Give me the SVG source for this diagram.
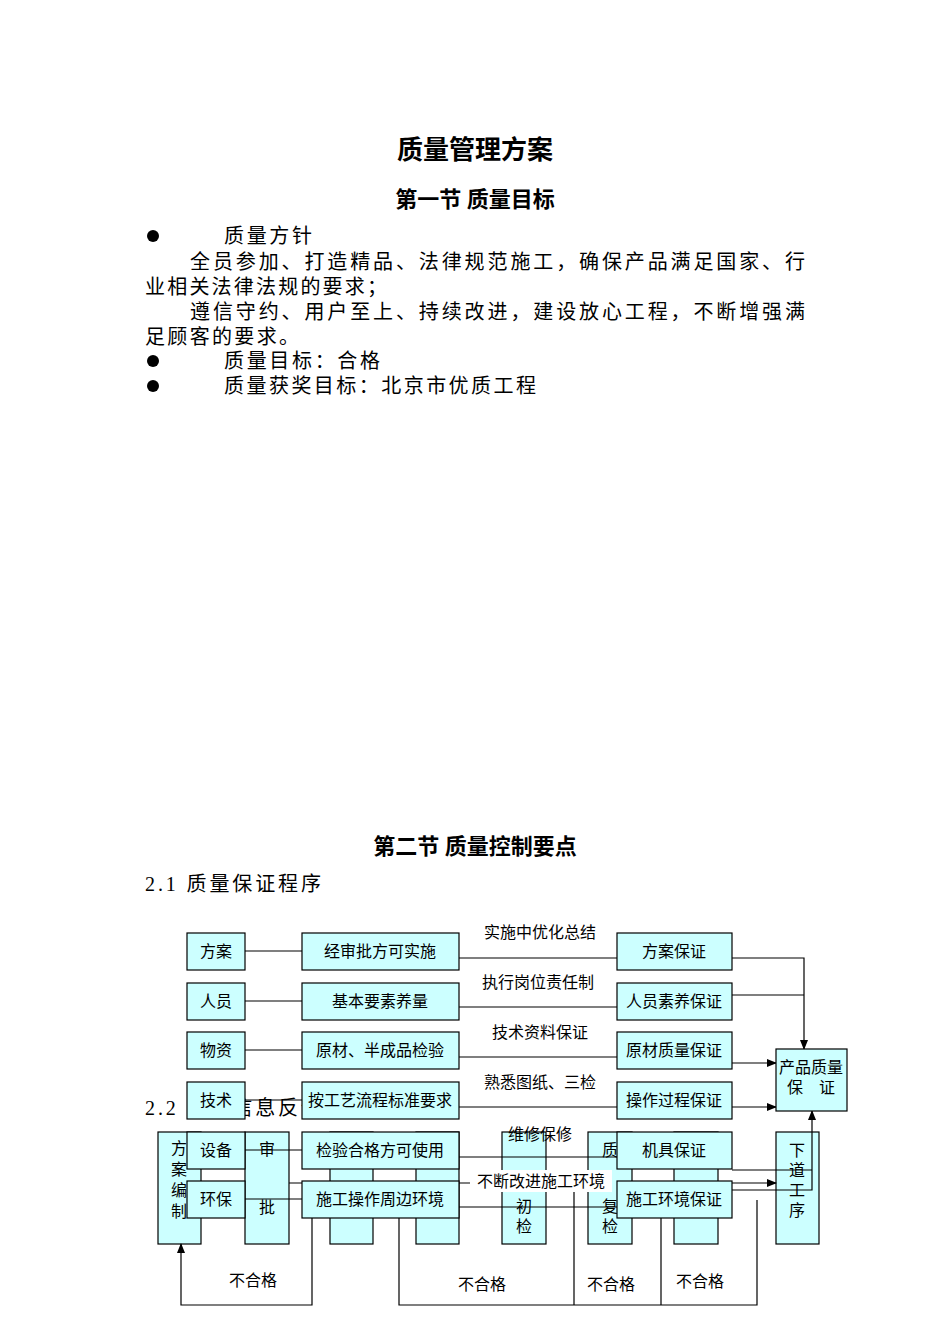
<svg xmlns="http://www.w3.org/2000/svg" width="950" height="1344" viewBox="0 0 950 1344">
<defs>
<style>
text{font-family:"Liberation Serif","Noto Sans CJK SC",serif;fill:#000}
.b{fill:#ccffff;stroke:#000;stroke-width:1.2}
.l{stroke:#000;stroke-width:1.2;fill:none}
.t{font-size:16px;text-anchor:middle}
.p{font-size:20px}
</style>
<marker id="a" markerWidth="10" markerHeight="8" refX="9" refY="4" orient="auto" markerUnits="userSpaceOnUse"><path d="M0,0L10,4L0,8z"/></marker>
</defs>
<rect width="950" height="1344" fill="#fff"/>
<text x="475" y="159" font-size="26" font-weight="bold" text-anchor="middle">质量管理方案</text>
<text x="475" y="207" font-size="22" font-weight="bold" text-anchor="middle">第一节 质量目标</text>
<g id="body">
<circle cx="153" cy="236" r="6"/><text x="224" y="243" class="p" textLength="88">质量方针</text>
<text x="190" y="269" class="p" textLength="615">全员参加、打造精品、法律规范施工，确保产品满足国家、行</text>
<text x="145" y="294" class="p" textLength="242">业相关法律法规的要求；</text>
<text x="190" y="319" class="p" textLength="615">遵信守约、用户至上、持续改进，建设放心工程，不断增强满</text>
<text x="145" y="344" class="p" textLength="154">足顾客的要求。</text>
<circle cx="153" cy="361" r="6"/><text x="224" y="368" class="p" textLength="156">质量目标：合格</text>
<circle cx="153" cy="386" r="6"/><text x="224" y="393" class="p" textLength="312">质量获奖目标：北京市优质工程</text>
</g>
<text x="475" y="854" font-size="22" font-weight="bold" text-anchor="middle">第二节 质量控制要点</text>
<text x="145" y="891" class="p" textLength="176">2.1 质量保证程序</text>
<text x="145" y="1115" class="p" textLength="176">2.2 质量信息反馈</text>
<g id="feedback">
<g id="fb1"><rect class="b" x="158" y="1132" width="43" height="112"/><text class="t" x="179" y="1154">方</text><text class="t" x="179" y="1175">案</text><text class="t" x="179" y="1196">编</text><text class="t" x="179" y="1217">制</text></g>
<g id="fb2"><rect class="b" x="245" y="1132" width="44" height="112"/><text class="t" x="267" y="1155">审</text><text class="t" x="267" y="1213">批</text></g>
<g id="fb3"><rect class="b" x="330" y="1132" width="43" height="112"/></g>
<g id="fb4"><rect class="b" x="416" y="1132" width="43" height="112"/></g>
<g id="fb5"><rect class="b" x="502" y="1132" width="44" height="112"/><text class="t" x="524" y="1212">初</text><text class="t" x="524" y="1232">检</text></g>
<g id="fb6"><rect class="b" x="588" y="1132" width="44" height="112"/><text class="t" x="610" y="1156">质</text><text class="t" x="610" y="1212">复</text><text class="t" x="610" y="1232">检</text></g>
<g id="fb7"><rect class="b" x="674" y="1132" width="44" height="112"/></g>
<g id="fb8"><rect class="b" x="776" y="1132" width="43" height="112"/><text class="t" x="797" y="1156">下</text><text class="t" x="797" y="1176">道</text><text class="t" x="797" y="1196">工</text><text class="t" x="797" y="1216">序</text></g>
</g>
<g id="fbconn">
<path class="l" d="M201,1183H245M289,1183H330M373,1183H416M459,1183H502M546,1183H588M632,1183H674M718,1183H776" marker-end="url(#a)"/>
<path class="l" d="M312,1218V1305H181V1244" marker-end="url(#a)"/>
<path class="l" d="M399,1218V1305H757V1200M574,1190V1305M661,1218V1305"/>
<rect x="470" y="1170" width="142" height="22" fill="#fff"/>
<text class="t" x="541" y="1187">不断改进施工环境</text>
<text class="t" x="253" y="1286">不合格</text><text class="t" x="482" y="1290">不合格</text><text class="t" x="611" y="1290">不合格</text><text class="t" x="700" y="1287">不合格</text>
</g>
<g id="conn">
<path class="l" d="M245,951H302M245,1001H302M245,1050H302M245,1100H302M245,1150H302M245,1199H302"/>
<path class="l" d="M459,958H617M459,1007H617M459,1057H617M459,1107H617M459,1157H617M459,1207H617"/>
<path class="l" d="M732,958H804V1049" marker-end="url(#a)"/>
<path class="l" d="M732,995H804"/>
<path class="l" d="M732,1063H776" marker-end="url(#a)"/>
<path class="l" d="M732,1107H776" marker-end="url(#a)"/>
<path class="l" d="M732,1170H812M732,1190H812V1111" marker-end="url(#a)"/>
<text class="t" x="540" y="938">实施中优化总结</text>
<text class="t" x="538" y="988">执行岗位责任制</text>
<text class="t" x="540" y="1038">技术资料保证</text>
<text class="t" x="540" y="1088">熟悉图纸、三检</text>
<text class="t" x="540" y="1140">维修保修</text>
</g>
<g id="n-fa"><rect class="b" x="187" y="933" width="58" height="37"/><text class="t" x="216" y="957">方案</text></g>
<g id="n-ry"><rect class="b" x="187" y="983" width="58" height="37"/><text class="t" x="216" y="1007">人员</text></g>
<g id="n-wz"><rect class="b" x="187" y="1032" width="58" height="37"/><text class="t" x="216" y="1056">物资</text></g>
<g id="n-js"><rect class="b" x="187" y="1082" width="58" height="37"/><text class="t" x="216" y="1106">技术</text></g>
<g id="n-sb"><rect class="b" x="187" y="1132" width="58" height="37"/><text class="t" x="216" y="1156">设备</text></g>
<g id="n-hb"><rect class="b" x="187" y="1181" width="58" height="37"/><text class="t" x="216" y="1205">环保</text></g>
<g id="m1"><rect class="b" x="302" y="933" width="157" height="37"/><text class="t" x="380" y="957">经审批方可实施</text></g>
<g id="m2"><rect class="b" x="302" y="983" width="157" height="37"/><text class="t" x="380" y="1007">基本要素养量</text></g>
<g id="m3"><rect class="b" x="302" y="1032" width="157" height="37"/><text class="t" x="380" y="1056">原材、半成品检验</text></g>
<g id="m4"><rect class="b" x="302" y="1082" width="157" height="37"/><text class="t" x="380" y="1106">按工艺流程标准要求</text></g>
<g id="m5"><rect class="b" x="302" y="1132" width="157" height="37"/><text class="t" x="380" y="1156">检验合格方可使用</text></g>
<g id="m6"><rect class="b" x="302" y="1181" width="157" height="37"/><text class="t" x="380" y="1205">施工操作周边环境</text></g>
<g id="r1"><rect class="b" x="617" y="933" width="115" height="37"/><text class="t" x="674" y="957">方案保证</text></g>
<g id="r2"><rect class="b" x="617" y="983" width="115" height="37"/><text class="t" x="674" y="1007">人员素养保证</text></g>
<g id="r3"><rect class="b" x="617" y="1032" width="115" height="37"/><text class="t" x="674" y="1056">原材质量保证</text></g>
<g id="r4"><rect class="b" x="617" y="1082" width="115" height="37"/><text class="t" x="674" y="1106">操作过程保证</text></g>
<g id="r5"><rect class="b" x="617" y="1132" width="115" height="37"/><text class="t" x="674" y="1156">机具保证</text></g>
<g id="r6"><rect class="b" x="617" y="1181" width="115" height="37"/><text class="t" x="674" y="1205">施工环境保证</text></g>
<g id="pq"><rect class="b" x="776" y="1049" width="71" height="62"/><text class="t" x="811" y="1073">产品质量</text><text class="t" x="811" y="1093">保　证</text></g>
</svg>
